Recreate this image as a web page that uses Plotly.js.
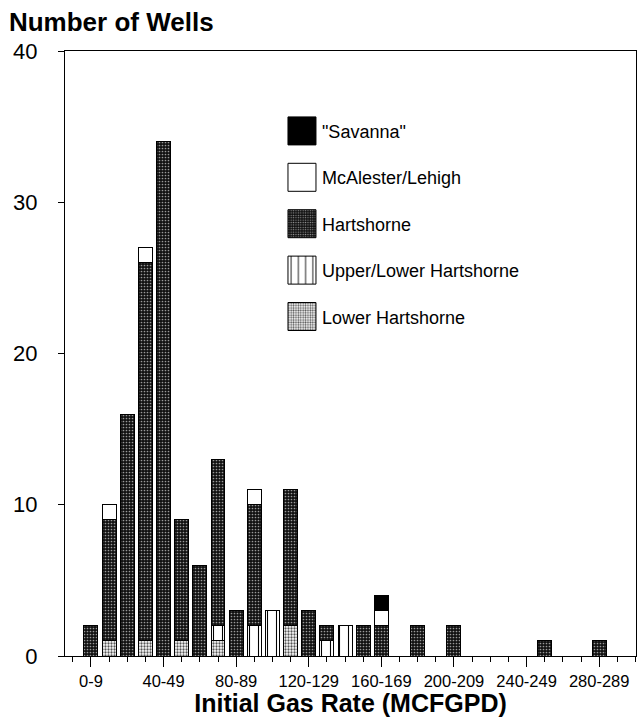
<!DOCTYPE html>
<html>
<head>
<meta charset="utf-8">
<script src="https://cdn.plot.ly/plotly-3.0.1.min.js"></script>
<style>
  html, body { margin: 0; padding: 0; background: #fff; }
  #chart { width: 639px; height: 717px; }
</style>
</head>
<body>
<div id="chart"></div>
<script>
// Initial gas rate classes (MCFGPD)
const categories = ['0-9','10-19','20-29','30-39','40-49','50-59','60-69','70-79','80-89','90-99',
  '100-109','110-119','120-129','130-139','140-149','150-159','160-169','170-179','180-189','190-199',
  '200-209','210-219','220-229','230-239','240-249','250-259','260-269','270-279','280-289'];

// Number of wells by completion zone, listed bottom-up in the stack
const lowerHartshorne = [0,1,0,1,0,1,0,1,0,0, 0,2,0,0,0,0,0,0,0,0, 0,0,0,0,0,0,0,0,0];
const upperLowerHartshorne = [0,0,0,0,0,0,0,1,0,2, 3,0,0,1,2,0,0,0,0,0, 0,0,0,0,0,0,0,0,0];
const hartshorne = [2,8,16,25,34,8,6,11,3,8, 0,9,3,1,0,2,2,0,2,0, 2,0,0,0,0,1,0,0,1];
const mcalesterLehigh = [0,1,0,1,0,0,0,0,0,1, 0,0,0,0,0,0,1,0,0,0, 0,0,0,0,0,0,0,0,0];
const savanna = [0,0,0,0,0,0,0,0,0,0, 0,0,0,0,0,0,1,0,0,0, 0,0,0,0,0,0,0,0,0];

// Only every fourth class is labelled on the axis
const labelStep = 4;

const xIndex = categories.map((c, i) => i);
const tickVals = xIndex.filter(i => i % labelStep === 0);
const tickText = tickVals.map(i => categories[i]);

const FONT = 'Arial, "Liberation Sans", sans-serif';
const outline = { color: '#000', width: 1 };

function series(name, values, rank, marker) {
  return {
    type: 'bar', name: name, x: xIndex, y: values, width: 0.77,
    legendgroup: name, legendrank: rank, hoverinfo: 'skip',
    marker: Object.assign({ line: outline }, marker)
  };
}

const traces = [
  series('Lower Hartshorne', lowerHartshorne, 5, {
    color: '#fff',
    pattern: { shape: '.', fgcolor: '#555', bgcolor: '#fff', size: 3, solidity: 0.45, fillmode: 'replace' }
  }),
  series('Upper/Lower Hartshorne', upperLowerHartshorne, 4, {
    color: '#fff',
    pattern: { shape: '|', fgcolor: '#000', bgcolor: '#fff', size: 9, solidity: 0.12, fillmode: 'replace' }
  }),
  series('Hartshorne', hartshorne, 3, {
    color: '#222',
    pattern: { shape: '.', fgcolor: '#999', bgcolor: '#111', size: 3, solidity: 0.25, fillmode: 'replace' }
  }),
  series('McAlester/Lehigh', mcalesterLehigh, 2, { color: '#fff' }),
  series('"Savanna"', savanna, 1, { color: '#000' })
];

const layout = {
  width: 639, height: 717,
  margin: { l: 65, r: 3, t: 51, b: 61 },
  paper_bgcolor: '#fff', plot_bgcolor: '#fff',
  barmode: 'stack',
  showlegend: true,
  font: { family: FONT, color: '#000' },
  title: {
    text: 'Number of Wells',
    font: { family: FONT, size: 26, weight: 'bold', color: '#000' },
    x: 0.014, xanchor: 'left', xref: 'container',
    y: 0.969, yanchor: 'middle'
  },
  xaxis: {
    range: [-1.43, 30.03],
    tickmode: 'array', tickvals: tickVals, ticktext: tickText,
    ticks: 'outside', ticklen: 10, tickwidth: 1, tickcolor: '#000',
    minor: { dtick: 1, tick0: 0, ticks: 'outside', ticklen: 5, tickwidth: 1, tickcolor: '#000', showgrid: false },
    tickfont: { family: FONT, size: 16.5, color: '#000' },
    showgrid: false, zeroline: false,
    showline: true, linecolor: '#000', linewidth: 1, mirror: true,
    title: { text: 'Initial Gas Rate (MCFGPD)', font: { family: FONT, size: 25, weight: 'bold', color: '#000' }, standoff: 7 }
  },
  yaxis: {
    range: [0, 40], dtick: 10, tick0: 0,
    ticks: 'outside', ticklen: 6, tickwidth: 1, tickcolor: '#000',
    ticklabelstandoff: 16,
    tickfont: { family: FONT, size: 22, color: '#000' },
    showgrid: false, zeroline: false,
    showline: true, linecolor: '#000', linewidth: 1, mirror: true
  },
  legend: {
    x: 0.38, y: 0.898, xanchor: 'left', yanchor: 'top',
    traceorder: 'grouped', tracegroupgap: 20,
    itemwidth: 30,
    font: { family: FONT, size: 18, color: '#000' },
    bgcolor: 'rgba(0,0,0,0)', borderwidth: 0
  }
};

// Enlarge the legend swatches to a 28px square
function enlargeSwatches() {
  document.querySelectorAll('g.legendpoints path').forEach(function (p) {
    p.setAttribute('d', 'M14,14H-14V-14H14Z');
  });
}

Plotly.newPlot('chart', traces, layout, { displayModeBar: false }).then(function () {
  enlargeSwatches();
  setTimeout(enlargeSwatches, 50);
});
</script>
</body>
</html>
